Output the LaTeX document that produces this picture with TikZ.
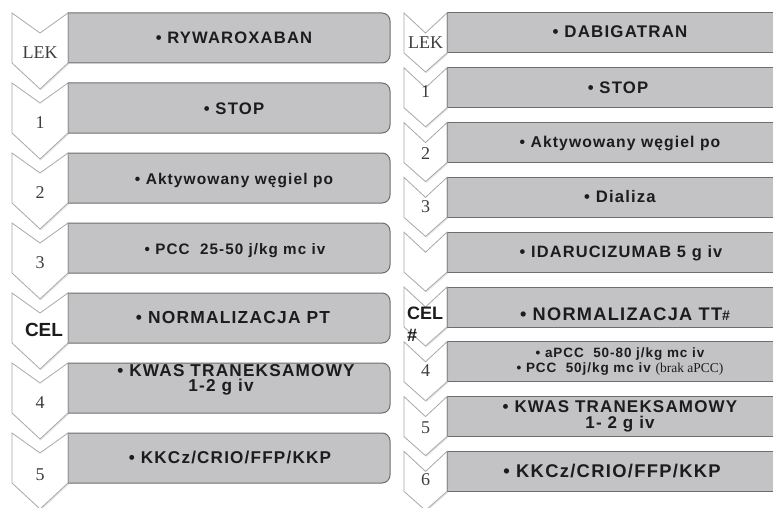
\documentclass[tikz,border=0pt]{standalone}
\usepackage{fontspec}
\setmainfont{Liberation Serif}
\setsansfont{Liberation Sans}
\newfontfamily\barfont{Liberation Sans}[LetterSpace=7]
\usetikzlibrary{shadows}
\definecolor{bargray}{HTML}{C3C3C6}
\definecolor{barline}{HTML}{6E6E6E}
\definecolor{chevline}{HTML}{A8A8A8}
\definecolor{inkgray}{HTML}{1C1C1C}
\tikzset{
  barbox/.style={draw=barline, line width=1pt, fill=bargray},
  chevbox/.style={draw=chevline, line width=0.8pt, fill=white,
                  drop shadow={shadow xshift=1.2pt, shadow yshift=-1.2pt, opacity=0.2}},
  bartext/.style={align=center, text=inkgray, inner sep=0pt,
                  font=\barfont\bfseries\fontsize{#1}{15}\selectfont},
  bartext/.default=16.8,
  chevtext/.style={text=inkgray!85, inner sep=0pt, font=\fontsize{18}{18}\selectfont},
  celtext/.style={text=inkgray, inner sep=0pt, align=left,
                  font=\sffamily\bfseries\fontsize{18}{22}\selectfont}}

\begin{document}
\begin{tikzpicture}[x=1pt, y=-1pt]
  \useasboundingbox (0,0) rectangle (773,508);
  \clip (0,0) rectangle (773,508);
  % left column: bars and chevrons
  \foreach \t in {13,83,...,433} {
    \draw[barbox] (68,\t) -- (382,\t) arc[start angle=-90, end angle=0, radius=8]
      -- (390,\t+42) arc[start angle=0, end angle=90, radius=8] -- (68,\t+50) -- cycle;
    \draw[chevbox] (12,\t) -- (40,\t+20) -- (68,\t) -- (68,\t+50)
      -- (40,\t+76) -- (12,\t+50) -- cycle;
  }
  % right column: bars and chevrons
  \foreach \t in {13,67.8,...,452} {
    \draw[barbox] (447,\t) rectangle (790,\t+40);
    \draw[chevbox] (404,\t) -- (425.5,\t+20) -- (447,\t) -- (447,\t+40)
      -- (425.5,\t+59) -- (404,\t+40) -- cycle;
  }

  % left column: texts
  \node[bartext=16.6, anchor=base] (a1) at (234,44) {• RYWAROXABAN};
  \node[bartext=16.7, anchor=base] (a2) at (234,114) {• STOP};
  \node[bartext=15.5, anchor=base] (a3) at (234,184) {• Aktywowany węgiel po};
  \node[bartext=15.2, anchor=base] (a4) at (235,254) {• PCC\ \ 25-50 j/kg mc iv};
  \node[bartext=17.4, anchor=base] (a5) at (233,323) {• NORMALIZACJA PT};
  \node[bartext, font=\barfont\bfseries\fontsize{17.2}{15.5}\selectfont]
    (a6) at (236,380) {• KWAS TRANEKSAMOWY\\1-2 g iv\hspace*{30pt}};
  \node[bartext=17.1, anchor=base] (a7) at (230,463) {• KKCz/CRIO/FFP/KKP};
  \node[chevtext] (la1) at (40,53) {LEK};
  \node[chevtext] (la2) at (40,123) {1};
  \node[chevtext] (la3) at (40,193) {2};
  \node[chevtext] (la4) at (40,263) {3};
  \node[celtext, font=\sffamily\bfseries\fontsize{19}{22}\selectfont] (la5) at (44,330) {CEL};
  \node[chevtext] (la6) at (40,403) {4};
  \node[chevtext] (la7) at (40,475) {5};

  % right column: texts
  \node[bartext=16.9, anchor=base] (b1) at (620,38) {• DABIGATRAN};
  \node[bartext=16.7, anchor=base] (b2) at (618,94) {• STOP};
  \node[bartext=15.7, anchor=base] (b3) at (620,147) {• Aktywowany węgiel po};
  \node[bartext=16.7, anchor=base] (b4) at (620,202) {• Dializa};
  \node[bartext=16.4, anchor=base] (b5) at (621,257) {• IDARUCIZUMAB 5 g iv};
  \node[bartext=18.2, anchor=base] (b6) at (625,320)
    {• NORMALIZACJA TT{\fontsize{14}{14}\selectfont\#}};
  \node[bartext, font=\barfont\bfseries\fontsize{13.5}{15}\selectfont] (b7) at (620,362)
    {• aPCC\ \ 50-80 j/kg mc iv\\• PCC\ \ 50j/kg mc iv {\rmfamily\mdseries(brak aPCC)}};
  \node[bartext, font=\barfont\bfseries\fontsize{17}{16}\selectfont]
    (b8) at (620,416) {• KWAS TRANEKSAMOWY\\1- 2 g iv};
  \node[bartext=18.4, anchor=base] (b9) at (612,477) {• KKCz/CRIO/FFP/KKP};
  \node[chevtext] (lb1) at (425.5,43) {LEK};
  \node[chevtext] (lb2) at (425.5,92) {1};
  \node[chevtext] (lb3) at (425.5,154) {2};
  \node[chevtext] (lb4) at (425.5,207) {3};
  \node[celtext, anchor=north west] (lb6) at (407,307) {CEL\\\#};
  \node[chevtext] (lb7) at (425.5,371) {4};
  \node[chevtext] (lb8) at (425.5,428) {5};
  \node[chevtext] (lb9) at (425.5,480) {6};
\end{tikzpicture}
\end{document}
